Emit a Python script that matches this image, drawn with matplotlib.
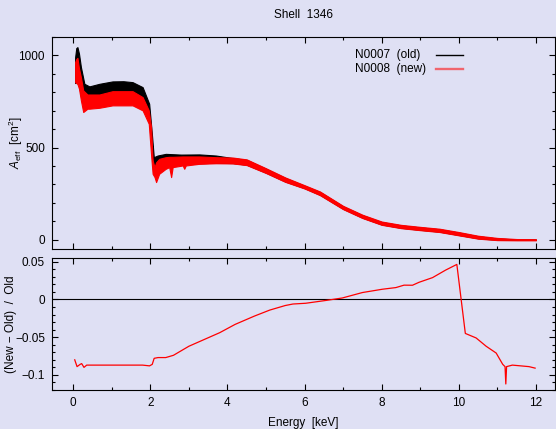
import matplotlib
matplotlib.use("Agg")
import matplotlib.pyplot as plt
from matplotlib.ticker import MultipleLocator

# effective area bands (upper / lower envelope of the curve family), cm^2
E_old = [0.05, 0.08, 0.11, 0.15, 0.2, 0.29, 0.42, 0.68, 1.02, 1.3, 1.54, 1.8, 1.97, 2.04, 2.09,
         2.19, 2.4, 2.8, 3.27, 3.7, 4.14, 4.5, 5.0, 5.5, 6.0, 6.4, 7.0, 7.5, 8.0, 8.5, 9.0,
         9.5, 10.0, 10.5, 11.0, 11.5, 12.0]
old_hi = [990, 1040, 1045, 1010, 937, 846, 832, 846, 859, 860, 855, 828, 738, 575, 448,
          457, 466, 462, 463, 457, 443, 433, 385, 335, 293, 259, 181, 133, 96, 78, 67,
          57, 39, 19, 7, 2, 1]
old_lo = [850, 860, 870, 840, 780, 740, 740, 745, 755, 760, 760, 740, 680, 520, 400,
          380, 400, 410, 415, 418, 416, 407, 364, 316, 280, 244, 168, 120, 83, 65, 54,
          44, 26, 8, 0, -1, -1]

E_new = [0.05, 0.08, 0.11, 0.15, 0.2, 0.26, 0.37, 0.42, 0.68, 1.02, 1.54, 1.8, 1.96, 2.02,
         2.06, 2.11, 2.15, 2.23, 2.4, 2.49, 2.54, 2.58, 2.84, 2.88, 2.92, 3.27, 3.7, 4.14,
         4.5, 5.0, 5.5, 6.0, 6.4, 7.0, 7.5, 8.0, 8.5, 9.0, 9.5, 10.0, 10.5, 11.0, 11.5, 12.0]
new_hi = [964, 980, 987, 930, 882, 810, 788, 788, 788, 806, 806, 774, 702, 611,
          430, 394, 420, 439, 448, 450, 450, 450, 452, 452, 452, 452, 448, 446,
          436, 388, 338, 296, 262, 184, 136, 99, 81, 70, 60, 42, 22, 10, 4, 3]
new_lo = [855, 850, 845, 820, 756, 693, 711, 711, 716, 729, 729, 702, 629, 460,
          358, 340, 313, 358, 385, 394, 340, 394, 403, 385, 403, 412, 415, 414,
          405, 362, 314, 278, 242, 166, 118, 81, 63, 52, 42, 24, 6, -2, -3, -3]

# relative difference (New - Old) / Old
E_ratio = [0.04, 0.1, 0.18, 0.22, 0.28, 0.35, 0.6, 1.0, 1.4, 1.8, 1.98, 2.05, 2.1, 2.2, 2.4,
           2.6, 2.8, 3.0, 3.4, 3.8, 4.2, 4.7, 5.1, 5.5, 5.7, 6.03, 6.55, 6.98, 7.5, 8.02,
           8.37, 8.58, 8.8, 8.97, 9.32, 9.66, 9.95, 10.17, 10.45, 10.71, 10.97, 11.14,
           11.2, 11.22, 11.24, 11.39, 11.82, 11.98]
ratio = [-0.080, -0.089, -0.086, -0.085, -0.090, -0.087, -0.087, -0.087, -0.087, -0.087,
         -0.088, -0.086, -0.078, -0.077, -0.077, -0.074, -0.068, -0.062, -0.053, -0.044,
         -0.033, -0.022, -0.014, -0.008, -0.006, -0.005, -0.0013, 0.002, 0.0092, 0.0136,
         0.0158, 0.019, 0.0189, 0.0228, 0.029, 0.039, 0.0465, -0.045, -0.051, -0.062,
         -0.071, -0.086, -0.089, -0.112, -0.089, -0.087, -0.089, -0.091]

labels = ['N0007  (old)', 'N0008  (new)']
colors = ['black', 'red']

bg = '#dfe0f4'
plt.rcParams['font.family'] = ['Liberation Sans', 'DejaVu Sans']
plt.rcParams['font.size'] = 8.5
plt.rcParams['mathtext.fontset'] = 'custom'
plt.rcParams['mathtext.rm'] = 'Liberation Sans'
plt.rcParams['mathtext.it'] = 'Liberation Sans:italic'

fig = plt.figure(figsize=(5.56, 4.29), dpi=100, facecolor=bg)
ax1 = fig.add_axes([0.0935, 0.4196, 0.905, 0.4942], facecolor=bg)
ax2 = fig.add_axes([0.0935, 0.0909, 0.905, 0.3077], facecolor=bg)

ax1.fill_between(E_old, old_lo, old_hi, color='black', lw=0.8)
ax1.fill_between(E_new, new_lo, new_hi, color='red', lw=0.8)

# legend, gnuplot style: left-aligned text, sample line to the right
for i, (lab, c) in enumerate(zip(labels, colors)):
    y = 0.915 - i * 0.066
    ax1.text(0.603, y, lab, transform=ax1.transAxes, ha='left', va='center')
    ax1.plot([0.764, 0.816], [y, y], transform=ax1.transAxes, color=c,
             lw=1 if i == 0 else 1.7, alpha=1 if i == 0 else 0.55)

ax1.set_ylim(-50, 1100)
ax1.yaxis.set_major_locator(MultipleLocator(500))
ax1.yaxis.set_minor_locator(MultipleLocator(100))
ax1.set_ylabel(r'$A_{\rm eff}$  [cm$^2$]', va='center')
ax1.yaxis.set_label_coords(-0.072, 0.5)
ax1.set_title('Shell  1346', fontsize=8.5, pad=14)
ax1.tick_params(labelbottom=False)

ax2.axhline(0, color='black', lw=0.8)
ax2.plot(E_ratio, ratio, color='red', lw=0.9)
ax2.set_ylim(-0.12, 0.055)
ax2.yaxis.set_minor_locator(MultipleLocator(0.01))
ax2.set_yticks([0.05, 0, -0.05, -0.1])
ax2.set_yticklabels(['0.05', '0', '\u22120.05', '\u22120.1'])
ax2.set_ylabel('(New \u2212 Old)  /  Old', va='center')
ax2.yaxis.set_label_coords(-0.082, 0.5)
ax2.set_xlabel('Energy  [keV]', labelpad=6)

for ax in (ax1, ax2):
    ax.set_xlim(-0.55, 12.5)
    ax.xaxis.set_major_locator(MultipleLocator(2))
    ax.xaxis.set_minor_locator(MultipleLocator(1))
    ax.tick_params(which='both', direction='in', top=True, right=True, width=0.8, pad=5)
    ax.tick_params(which='major', length=4.3)
    ax.tick_params(which='minor', length=2.2)
    for s in ax.spines.values():
        s.set_linewidth(0.8)

fig.savefig('out.png', dpi=100, facecolor=bg)
